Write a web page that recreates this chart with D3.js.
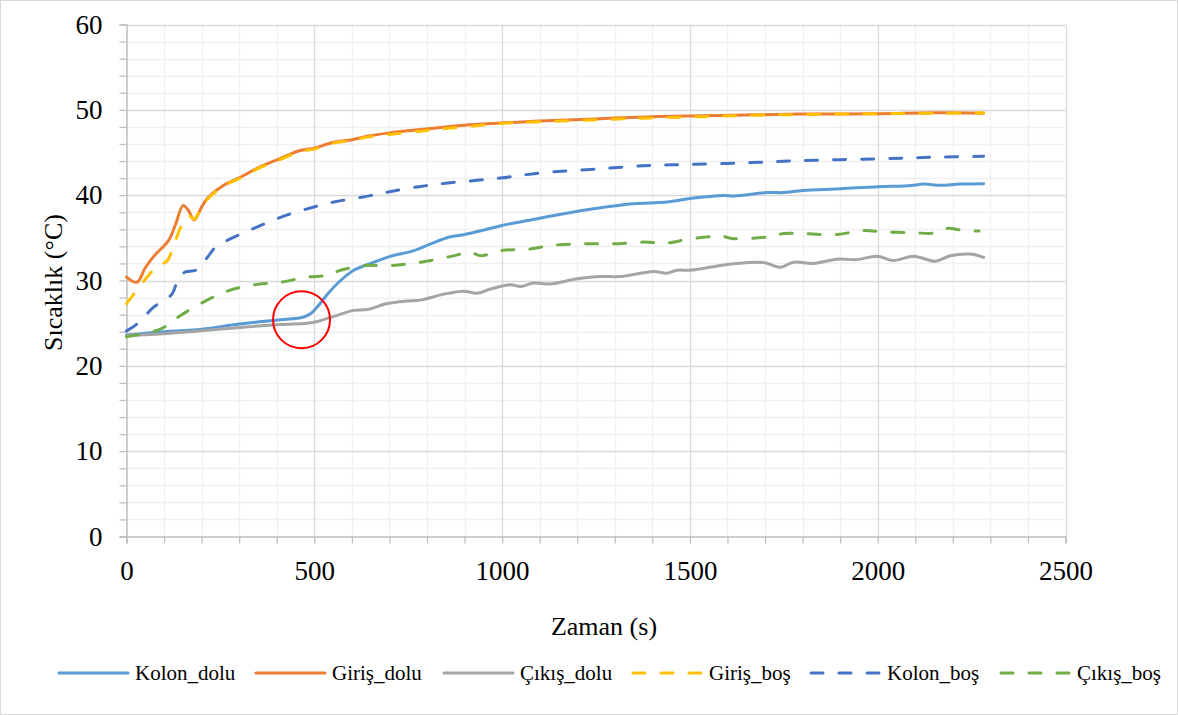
<!DOCTYPE html>
<html>
<head>
<meta charset="utf-8">
<script src="https://cdn.jsdelivr.net/npm/d3@7"></script>
<style>
  html, body { margin: 0; padding: 0; background: #fff; }
  svg { display: block; }
</style>
</head>
<body>
<svg id="chart" width="1178" height="715"></svg>
<script>
// ---------------- DATA ----------------
const seriesNames = ["Kolon_dolu", "Giriş_dolu", "Çıkış_dolu", "Giriş_boş", "Kolon_boş", "Çıkış_boş"];

const kolonDoluTime = [0,100,200,300,410,470,490,510,535,570,605,650,700,765,810,860,900,950,1000,1040,1100,1160,1226,1290,1350,1440,1500,1590,1620,1705,1750,1800,1900,2000,2080,2125,2165,2220,2282];
const kolonDoluTemp = [23.6,24.0,24.3,24.9,25.4,25.7,26.1,27.0,28.4,30.0,31.2,32.0,32.8,33.5,34.3,35.1,35.4,35.9,36.45,36.8,37.3,37.8,38.3,38.7,39.0,39.2,39.6,39.95,39.9,40.3,40.3,40.55,40.75,41.0,41.1,41.3,41.15,41.3,41.35];

const girisDoluTime = [0,28,50,72,112,130,151,165,180,200,215,260,303,350,410,460,500,551,600,641,700,783,850,900,995,1100,1262,1400,1528,1650,1794,2007,2150,2282];
const girisDoluTemp = [30.4,29.8,31.5,32.8,34.7,36.5,38.8,38.2,37.1,38.6,39.6,41.2,42.1,43.2,44.3,45.2,45.5,46.2,46.5,46.9,47.3,47.7,48.0,48.2,48.45,48.7,48.95,49.2,49.3,49.4,49.5,49.55,49.65,49.6];

const cikisDoluTime = [0,108,197,303,410,481,508,552,605,641,694,747,783,845,898,933,969,1022,1049,1084,1129,1200,1262,1315,1404,1439,1466,1501,1581,1616,1696,1741,1776,1829,1892,1945,1998,2042,2096,2153,2193,2246,2282];
const cikisDoluTemp = [23.55,23.8,24.1,24.5,24.85,25.0,25.2,25.8,26.5,26.6,27.3,27.6,27.7,28.4,28.75,28.5,29.0,29.5,29.3,29.7,29.6,30.2,30.47,30.47,31.05,30.86,31.2,31.2,31.76,31.96,32.1,31.56,32.15,32.0,32.5,32.45,32.85,32.35,32.85,32.26,32.9,33.1,32.7];

const girisBosTime = [0,55,80,108,125,144,165,180,200,215,260,303,350,410,460,500,551,600,641,700,783,850,900,995,1100,1262,1400,1528,1650,1794,2007,2150,2282];
const girisBosTemp = [27.3,30.4,31.6,32.3,34.0,36.2,37.6,37.2,38.6,39.5,41.1,42.0,43.1,44.2,45.1,45.4,46.1,46.4,46.8,47.1,47.5,47.8,48.0,48.4,48.6,48.85,49.05,49.2,49.35,49.45,49.55,49.6,49.65];

const kolonBosTime = [0,28,73,121,139,157,184,215,237,268,339,410,481,552,632,694,765,850,995,1100,1262,1400,1501,1650,1794,1998,2150,2282];
const kolonBosTemp = [24.1,24.9,26.9,28.4,30.4,31.0,31.2,32.7,33.9,34.7,36.1,37.4,38.4,39.2,39.8,40.35,40.9,41.4,42.0,42.6,43.1,43.5,43.6,43.8,44.05,44.25,44.45,44.55];

const cikisBosTime = [0,90,144,206,268,339,410,481,534,570,632,703,783,862,916,942,995,1075,1129,1208,1297,1377,1439,1492,1581,1616,1705,1750,1794,1892,1962,2016,2096,2149,2184,2229,2270];
const cikisBosTemp = [23.4,24.3,25.9,27.5,28.75,29.5,29.8,30.4,30.6,31.2,31.75,31.75,32.15,32.8,33.3,32.9,33.5,33.7,34.1,34.3,34.3,34.5,34.4,34.8,35.2,34.9,35.1,35.5,35.5,35.4,35.86,35.7,35.6,35.55,36.1,35.86,35.8];

const xTickValues = [0, 500, 1000, 1500, 2000, 2500];
const yTickValues = [0, 10, 20, 30, 40, 50, 60];
const xTitle = "Zaman (s)";
const yTitle = "Sıcaklık (°C)";
// highlighted region (red circle) in data units
const markerPoint = [466, 25.4];

// ---------------- STYLE ----------------
const FONT = "'Liberation Serif', 'Times New Roman', Tinos, serif";
const colors = ["#5B9BD5", "#ED7D31", "#A5A5A5", "#FFC000", "#4472C4", "#70AD47"];
const dashed = [false, false, false, true, true, true];

const series = [
  [kolonDoluTime, kolonDoluTemp],
  [girisDoluTime, girisDoluTemp],
  [cikisDoluTime, cikisDoluTemp],
  [girisBosTime, girisBosTemp],
  [kolonBosTime, kolonBosTemp],
  [cikisBosTime, cikisBosTemp]
].map(([t, v], i) => ({
  name: seriesNames[i], color: colors[i], dashed: dashed[i],
  values: t.map((tt, k) => ({ t: tt, v: v[k] }))
}));

const svg = d3.select("#chart");
const W = 1178, H = 715;
const m = { left: 126.5, right: 1065.5, top: 24.5, bottom: 536.5 };

const x = d3.scaleLinear().domain([0, 2500]).range([m.left, m.right]);
const y = d3.scaleLinear().domain([0, 60]).range([m.bottom, m.top]);

// outer border
svg.append("rect").attr("x", 0.5).attr("y", 0.5).attr("width", W - 1).attr("height", H - 1)
  .attr("fill", "#fff").attr("stroke", "#D9D9D9").attr("stroke-width", 1);

// minor gridlines
const g = svg.append("g");
g.selectAll(".vminor").data(d3.range(100, 2501, 100).filter(d => d % 500 !== 0)).join("line")
  .attr("x1", d => Math.round(x(d)) + 0.5).attr("x2", d => Math.round(x(d)) + 0.5)
  .attr("y1", y(60)).attr("y2", y(0)).attr("stroke", "#F0F0F0").attr("stroke-width", 1.3);
g.selectAll(".hminor").data(d3.range(2, 60, 2).filter(d => d % 10 !== 0)).join("line")
  .attr("y1", d => Math.round(y(d)) + 0.5).attr("y2", d => Math.round(y(d)) + 0.5)
  .attr("x1", x(0)).attr("x2", x(2500)).attr("stroke", "#F0F0F0").attr("stroke-width", 1.3);
// major gridlines
g.selectAll(".vmajor").data(xTickValues.slice(1)).join("line")
  .attr("x1", d => Math.round(x(d)) + 0.5).attr("x2", d => Math.round(x(d)) + 0.5)
  .attr("y1", y(60)).attr("y2", y(0)).attr("stroke", "#D9D9D9").attr("stroke-width", 1.3);
g.selectAll(".hmajor").data(yTickValues.slice(1)).join("line")
  .attr("y1", d => Math.round(y(d)) + 0.5).attr("y2", d => Math.round(y(d)) + 0.5)
  .attr("x1", x(0)).attr("x2", x(2500)).attr("stroke", "#D9D9D9").attr("stroke-width", 1.3);

// axes
const axisColor = "#BFBFBF";
const xAxis = d3.axisBottom(x).tickValues(d3.range(0, 2501, 100))
  .tickFormat(d => d % 500 === 0 ? d3.format("d")(d) : "").tickSize(7).tickPadding(17);
const yAxis = d3.axisLeft(y).tickValues(d3.range(0, 61, 2))
  .tickFormat(d => d % 10 === 0 ? d3.format("d")(d) : "").tickSize(7).tickPadding(17);

const gx = svg.append("g").attr("transform", `translate(0,${m.bottom})`).call(xAxis);
const gy = svg.append("g").attr("transform", `translate(${m.left},0)`).call(yAxis);
[gx, gy].forEach(a => {
  a.attr("font-family", null).attr("font-size", null);
  a.select(".domain").attr("stroke", axisColor).attr("stroke-width", 1.5);
  a.selectAll(".tick line").attr("stroke", axisColor).attr("stroke-width", 1.3);
  a.selectAll(".tick text").attr("fill", "#000")
    .style("font-family", FONT).style("font-size", "27px");
});

// lines
const line = d3.line().x(d => x(d.t)).y(d => y(d.v)).curve(d3.curveCatmullRom.alpha(0.5));
svg.append("g").selectAll("path").data(series).join("path")
  .attr("d", d => line(d.values))
  .attr("fill", "none")
  .attr("stroke", d => d.color)
  .attr("stroke-width", 3)
  .attr("stroke-linecap", "round")
  .attr("stroke-linejoin", "round")
  .attr("stroke-dasharray", d => d.dashed ? "12,16" : null);

// red circle highlight
svg.append("circle").attr("cx", x(markerPoint[0])).attr("cy", y(markerPoint[1])).attr("r", 28.5)
  .attr("fill", "none").attr("stroke", "#FF0000").attr("stroke-width", 2);

// axis titles
svg.append("text").attr("x", 604).attr("y", 635).attr("text-anchor", "middle")
  .style("font-family", FONT).style("font-size", "26px").attr("fill", "#000").text(xTitle);
svg.append("text").attr("transform", `translate(62,${(m.top + m.bottom) / 2 + 2}) rotate(-90)`)
  .attr("text-anchor", "middle").style("font-family", FONT).style("font-size", "26px")
  .attr("fill", "#000").text(yTitle);

// legend
const legendX = [59, 256, 444, 633, 811, 1001];
const legendY = 673;
const lg = svg.append("g").selectAll("g").data(series).join("g")
  .attr("transform", (d, i) => `translate(${legendX[i]},${legendY})`);
lg.append("line").attr("x1", 0).attr("x2", 69).attr("y1", 0).attr("y2", 0)
  .attr("stroke", d => d.color).attr("stroke-width", 3).attr("stroke-linecap", "round")
  .attr("stroke-dasharray", d => d.dashed ? "12,16" : null);
lg.append("text").attr("x", 76).attr("y", 0).attr("dy", "0.33em")
  .style("font-family", FONT).style("font-size", "21px")
  .attr("fill", "#000").text(d => d.name);
</script>
</body>
</html>
